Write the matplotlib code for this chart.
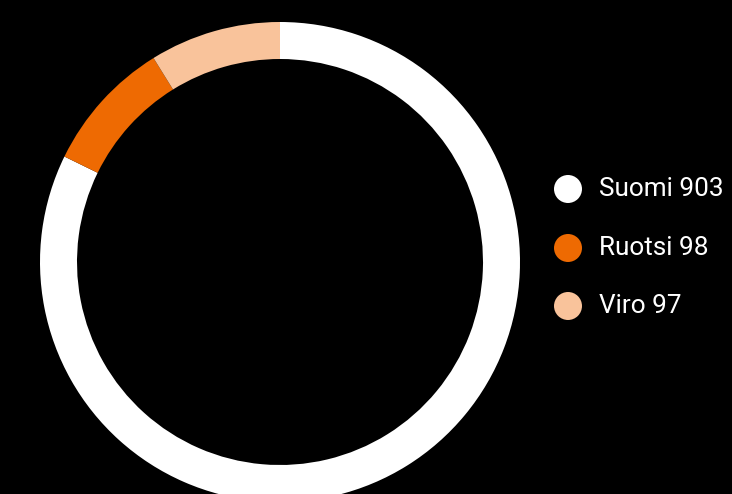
import matplotlib.pyplot as plt

labels = ['Suomi', 'Ruotsi', 'Viro']
values = [903, 98, 97]
colors = ['#ffffff', '#ee6a02', '#f9c39b']

W, H = 732, 494
fig = plt.figure(figsize=(W / 100, H / 100), dpi=100, facecolor='black')

# donut: centre (280, 262) px from top, outer radius 240 px
cx, cy, r = 280, 262, 240
ax = fig.add_axes([(cx - r) / W, (H - cy - r) / H, 2 * r / W, 2 * r / H])
ax.set_facecolor('black')
ax.pie(values, colors=colors, startangle=90, counterclock=False, radius=1,
       wedgeprops=dict(width=37 / 240, edgecolor='none', linewidth=0))
ax.set_xlim(-1, 1)
ax.set_ylim(-1, 1)
ax.axis('off')

# legend drawn in pixel coordinates
lax = fig.add_axes([0, 0, 1, 1])
lax.set_xlim(0, W)
lax.set_ylim(H, 0)
lax.axis('off')
ys = [189, 248, 306]
for lab, val, col, y in zip(labels, values, colors, ys):
    lax.scatter([568], [y], s=(28 * 0.72) ** 2, color=col, edgecolors='none')
    lax.text(599, y, f'{lab} {val}', color='white', fontsize=18.8,
             family='Roboto', va='center', ha='left')

fig.savefig('out.png', dpi=100, facecolor='black')
